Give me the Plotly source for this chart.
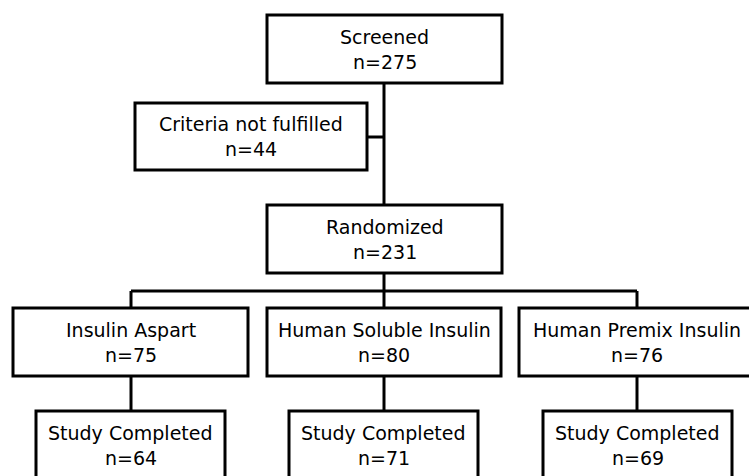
import plotly.graph_objects as go

# ---- data (labels and counts) ----
stage_labels = ["Screened", "Criteria not fulfilled", "Randomized",
                "Insulin Aspart", "Human Soluble Insulin", "Human Premix Insulin",
                "Study Completed", "Study Completed", "Study Completed"]
stage_counts = [275, 44, 231, 75, 80, 76, 64, 71, 69]

# ---- layout geometry (pixel coordinates, y downward) ----
W, H = 749, 476
boxes = [  # x0, x1, y0, y1
    (267, 502, 15, 83),
    (135, 367, 103, 170),
    (267, 502, 205, 273),
    (13, 248, 308, 376),
    (267, 501, 308, 376),
    (519, 755, 308, 376),
    (36, 225, 411, 479),
    (289, 478, 411, 479),
    (543, 732, 411, 479),
]
connectors = [  # x0, y0, x1, y1
    (384, 83, 384, 205),
    (367, 137, 384, 137),
    (384, 273, 384, 308),
    (131, 291, 637, 291),
    (131, 291, 131, 308),
    (637, 291, 637, 308),
    (131, 376, 131, 411),
    (384, 376, 384, 411),
    (637, 376, 637, 411),
]
LW = 3
FONT = dict(family="DejaVu Sans", size=19, color="black")

fig = go.Figure()
fig.add_trace(go.Scatter(x=[0, W], y=[0, H], mode="markers",
                         marker=dict(opacity=0), hoverinfo="skip", showlegend=False))

shapes = []
annotations = []
for (x0, x1, y0, y1), label, n in zip(boxes, stage_labels, stage_counts):
    shapes.append(dict(type="rect", x0=x0, x1=x1, y0=y0, y1=y1,
                       line=dict(color="black", width=LW), fillcolor="white", layer="above"))
    cx = (x0 + x1) / 2
    cy = (y0 + min(y1, y0 + 68)) / 2
    annotations.append(dict(x=cx, y=cy - 12.5, text=label, showarrow=False,
                            font=FONT, xanchor="center", yanchor="middle"))
    annotations.append(dict(x=cx, y=cy + 12.5, text=f"n={n}", showarrow=False,
                            font=FONT, xanchor="center", yanchor="middle"))
for (x0, y0, x1, y1) in connectors:
    shapes.insert(0, dict(type="line", x0=x0, y0=y0, x1=x1, y1=y1,
                          line=dict(color="black", width=LW), layer="above"))

fig.update_layout(
    width=W, height=H,
    margin=dict(l=0, r=0, t=0, b=0),
    paper_bgcolor="white", plot_bgcolor="white",
    xaxis=dict(range=[0, W], visible=False, fixedrange=True),
    yaxis=dict(range=[H, 0], visible=False, fixedrange=True),
    shapes=shapes, annotations=annotations,
    showlegend=False,
)
fig.write_html("out.html", config={"displayModeBar": False},
               post_script="document.body.style.margin='0';document.body.style.overflow='hidden';")
